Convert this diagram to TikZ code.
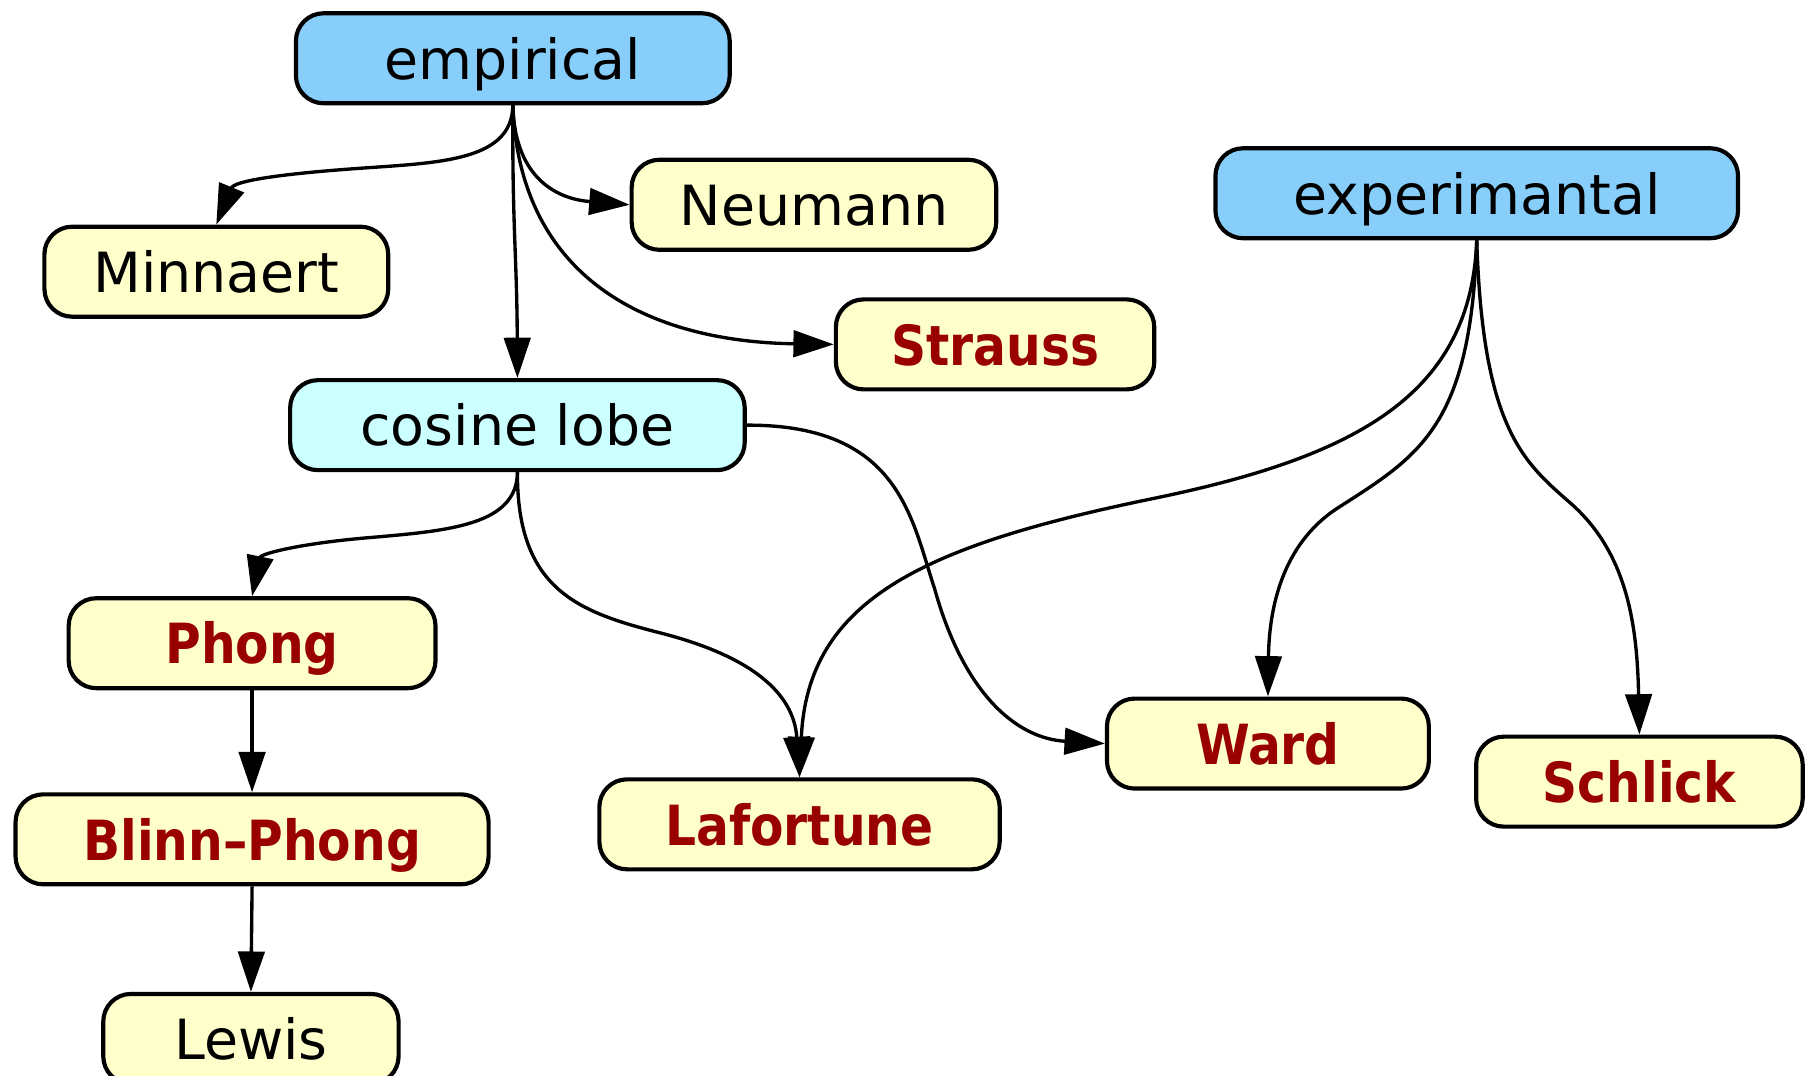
\documentclass[tikz,border=0pt]{standalone}
\usepackage{fontspec}
\setmainfont{DejaVu Sans}
\newfontfamily\boldlbl{DejaVu Sans}[FakeStretch=0.88]
\usetikzlibrary{arrows.meta}
\definecolor{blueF}{HTML}{87CEFA}
\definecolor{cyanF}{HTML}{CCFFFF}
\definecolor{yellowF}{HTML}{FFFFCC}
\definecolor{redT}{HTML}{990000}
\begin{document}
\begin{tikzpicture}[x=1pt,y=-1pt,
  box/.style={draw=black, line width=3.6pt, rounded corners=24pt, minimum height=78pt, inner sep=0pt,
    text height=36pt, text depth=0pt, font=\fontsize{48}{48}\selectfont},
  topbox/.style={box, fill=blueF},
  midbox/.style={box, fill=cyanF},
  leafbox/.style={box, fill=yellowF},
  redbox/.style={box, fill=yellowF, text=redT, font=\fontsize{48}{48}\boldlbl\bfseries},
  conn/.style={line width=2.9pt, -{Triangle[length=35pt,width=23pt]}}
]
\useasboundingbox (0,0) rectangle (1568,932);
\fill[white] (0,0) rectangle (1568,932);

\node[topbox, minimum width=376pt] (emp) at (444.5,50.5) {empirical};
\node[leafbox, minimum width=298pt] (min) at (187.5,235.5) {Minnaert};
\node[leafbox, minimum width=316pt] (neu) at (705.5,177.5) {Neumann};
\node[topbox, minimum width=453pt] (exp) at (1280,167.5) {experimantal};
\node[redbox, minimum width=276pt] (str) at (862.5,298.5) {Strauss};
\node[midbox, minimum width=394pt] (cos) at (448.5,368.5) {cosine lobe};
\node[redbox, minimum width=318pt] (pho) at (218.5,557.5) {Phong};
\node[redbox, minimum width=410pt] (bli) at (218.5,727.5) {Blinn–Phong};
\node[leafbox, minimum width=256pt] (lew) at (217.5,900.5) {Lewis};
\node[redbox, minimum width=347pt] (laf) at (693,714.5) {Lafortune};
\node[redbox, minimum width=279pt] (war) at (1099,644.5) {Ward};
\node[redbox, minimum width=283pt] (sch) at (1421,677.5) {Schlick};

\draw[conn] (emp.south) .. controls (444,140) and (380,141) .. (310,146)
  .. controls (240,151) and (203,157) .. (min.north);
\draw[conn] (emp.south) .. controls (446,150) and (478,172) .. (neu.west);
\draw[conn] (emp.south) .. controls (444,200) and (448,220) .. (cos.north);
\draw[conn] (emp.south) .. controls (450,240) and (560,296) .. (str.west);

\draw[conn] (exp.south) .. controls (1275,340) and (1180,395) .. (1000,432)
  .. controls (800,473) and (700,520) .. (laf.north);
\draw[conn] (exp.south) .. controls (1275,370) and (1230,395) .. (1160,440)
  .. controls (1110,472) and (1100,530) .. (war.north);
\draw[conn] (exp.south) .. controls (1285,370) and (1320,400) .. (1360,435)
  .. controls (1410,478) and (1419,540) .. (sch.north);

\draw[conn] (cos.south) .. controls (448,455) and (390,460) .. (320,466)
  .. controls (260,471) and (226,480) .. (pho.north);
\draw[conn] (cos.south) .. controls (448,510) and (500,530) .. (570,548)
  .. controls (650,568) and (688,600) .. (laf.north);
\draw[conn] (cos.east) .. controls (780,368) and (790,450) .. (810,510)
  .. controls (835,600) and (880,640) .. (war.west);

\draw[conn] (pho.south) -- (bli.north);
\draw[conn] (bli.south) -- (lew.north);
\end{tikzpicture}
\end{document}
